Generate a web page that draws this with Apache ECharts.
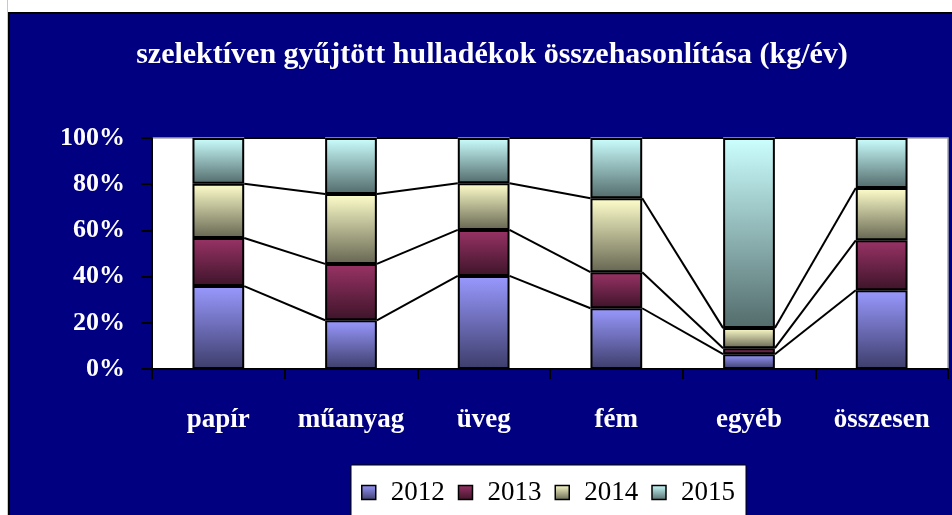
<!DOCTYPE html>
<html>
<head>
<meta charset="utf-8">
<script src="https://cdn.jsdelivr.net/npm/echarts@6/dist/echarts.min.js"></script>
<style>
  html, body { margin: 0; padding: 0; background: #ffffff; }
  #chart { width: 952px; height: 515px; }
</style>
</head>
<body>
<div id="chart"></div>
<script>
// Share of each year in the collected amount per waste type (%)
const categories = ['papír', 'műanyag', 'üveg', 'fém', 'egyéb', 'összesen'];
const years = ['2012', '2013', '2014', '2015'];
const share2012 = [35.9, 21.1, 40.3, 26.3, 6.4, 34.1];
const share2013 = [20.8, 24.4, 19.9, 15.6, 2.6, 21.6];
const share2014 = [23.5, 30.3, 20.2, 32.0, 8.7, 22.7];
const share2015 = [19.8, 24.2, 19.6, 26.1, 82.3, 21.6];
const yTicks = ['0%', '20%', '40%', '60%', '80%', '100%'];

const seriesData = [share2012, share2013, share2014, share2015];
const topColors = ['#9999ff', '#993366', '#ffffcc', '#ccffff'];
const bottomColors = ['#3d3d6b', '#3d1429', '#666652', '#536b6b'];
const BAR_RATIO = 0.39;
const FONT = '"Liberation Serif", "Times New Roman", serif';

// cumulative tops of each stacked segment, used by the series lines
const cumulative = seriesData.map((_, k) =>
  categories.map((_, i) => {
    let s = 0;
    for (let j = 0; j <= k; j++) s += seriesData[j][i];
    return s;
  })
);

const chart = echarts.init(document.getElementById('chart'), null, { renderer: 'canvas' });

const barSeries = years.map((name, k) => ({
  name: name,
  type: 'bar',
  stack: 'total',
  barWidth: (BAR_RATIO * 100) + '%',
  data: seriesData[k],
  z: 3,
  itemStyle: {
    color: new echarts.graphic.LinearGradient(0, 0, 0, 1, [
      { offset: 0, color: topColors[k] },
      { offset: 1, color: bottomColors[k] }
    ]),
    borderColor: '#000000',
    borderWidth: 2
  },
  emphasis: { disabled: true }
}));

// lines joining the segment tops of neighbouring columns
const seriesLines = {
  type: 'custom',
  silent: true,
  z: 4,
  data: categories.slice(0, -1).map((_, i) => [i]),
  renderItem: function (params, api) {
    const i = api.value(0);
    const band = api.size([1, 0])[0];
    const half = band * BAR_RATIO / 2;
    const children = cumulative.map(level => {
      const a = api.coord([i, level[i]]);
      const b = api.coord([i + 1, level[i + 1]]);
      return {
        type: 'line',
        shape: { x1: a[0] + half, y1: a[1], x2: b[0] - half, y2: b[1] },
        style: { stroke: '#000000', lineWidth: 2 }
      };
    });
    return { type: 'group', children: children };
  }
};

chart.setOption({
  animation: false,
  backgroundColor: '#ffffff',
  graphic: [
    { type: 'rect', z: -10, shape: { x: 7, y: 0, width: 1, height: 515 }, style: { fill: '#c8c8c8' } },
    { type: 'rect', z: -10, shape: { x: 9, y: 13, width: 960, height: 520 },
      style: { fill: '#000080', stroke: '#000000', lineWidth: 2 } }
  ],
  title: {
    text: 'szelektíven gyűjtött hulladékok összehasonlítása (kg/év)',
    left: 487,
    top: 35,
    textAlign: 'center',
    textStyle: { color: '#ffffff', fontFamily: FONT, fontWeight: 'bold', fontSize: 30 }
  },
  legend: {
    data: years.map(name => ({ name: name, icon: 'rect' })),
    left: 351,
    top: 465,
    padding: [14, 11, 22, 10],
    backgroundColor: '#ffffff',
    borderColor: '#000000',
    borderWidth: 1,
    borderRadius: 0,
    itemWidth: 14,
    itemHeight: 14,
    itemGap: 13,
    selectedMode: false,
    itemStyle: { borderColor: '#000000', borderWidth: 1.5 },
    textStyle: { color: '#000000', fontFamily: FONT, fontSize: 27, padding: [0, 0, 0, 10] }
  },
  grid: {
    left: 152, right: 4, top: 138, bottom: 146,
    show: true,
    backgroundColor: '#ffffff',
    borderColor: '#a6a6a6',
    borderWidth: 1.5
  },
  xAxis: {
    type: 'category',
    data: categories,
    boundaryGap: true,
    axisLine: { lineStyle: { color: '#000000', width: 2 } },
    axisTick: { show: true, interval: 0, length: 10, lineStyle: { color: '#000000', width: 2 } },
    axisLabel: { interval: 0, color: '#ffffff', fontFamily: FONT, fontWeight: 'bold', fontSize: 27, margin: 38 },
    splitLine: { show: false }
  },
  yAxis: {
    type: 'value',
    min: 0,
    max: 100,
    interval: 20,
    axisLine: { show: true, lineStyle: { color: '#000000', width: 2 } },
    axisTick: { show: true, length: 11, lineStyle: { color: '#000000', width: 2 } },
    axisLabel: {
      color: '#ffffff', fontFamily: FONT, fontWeight: 'bold', fontSize: 26, margin: 27,
      formatter: function (v) { return yTicks[Math.round(v / 20)]; }
    },
    splitLine: { show: false }
  },
  series: barSeries.concat([seriesLines])
});
</script>
</body>
</html>
